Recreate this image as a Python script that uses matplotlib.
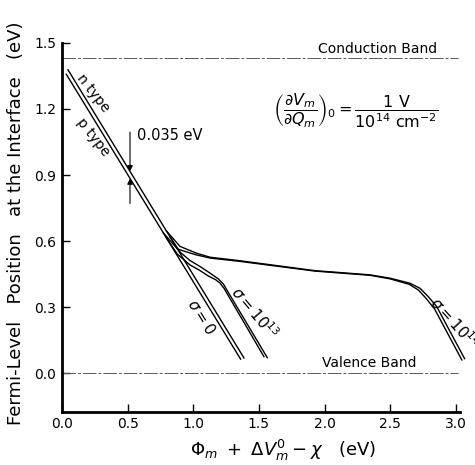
import matplotlib
matplotlib.use("Agg")
import matplotlib.pyplot as plt

# ---------------------------
# Data
# ---------------------------
# sigma = 0 : straight lines for n type (upper) and p type (lower)
x_n0 = [0.043, 1.389]
y_n0 = [1.380, 0.067]
x_p0 = [0.030, 1.363]
y_p0 = [1.360, 0.062]

# sigma = 1e13
x_n13 = [0.82, 0.90, 0.975, 1.051, 1.127, 1.19, 1.229, 1.259, 1.567]
y_n13 = [0.622, 0.55, 0.512, 0.485, 0.455, 0.429, 0.406, 0.375, 0.068]
x_p13 = [0.79, 0.88, 0.975, 1.05, 1.114, 1.17, 1.203, 1.234, 1.541]
y_p13 = [0.619, 0.54, 0.492, 0.467, 0.442, 0.425, 0.41, 0.386, 0.073]

# sigma = 1e14
x_n14 = [0.79, 0.899, 1.026, 1.127, 1.356, 1.927, 2.346, 2.498, 2.65, 2.727, 2.79, 2.854, 3.069]
y_n14 = [0.65, 0.576, 0.545, 0.527, 0.511, 0.466, 0.447, 0.432, 0.409, 0.386, 0.348, 0.303, 0.064]
x_p14 = [0.768, 0.88, 1.02, 1.13, 1.356, 1.927, 2.346, 2.498, 2.645, 2.715, 2.775, 2.838, 3.048]
y_p14 = [0.640, 0.564, 0.538, 0.523, 0.508, 0.464, 0.445, 0.429, 0.404, 0.378, 0.339, 0.292, 0.058]

conduction_band = 1.43
valence_band = 0.0

x_ticks = [0.0, 0.5, 1.0, 1.5, 2.0, 2.5, 3.0]
y_ticks = [0.0, 0.3, 0.6, 0.9, 1.2, 1.5]

# 0.035 eV marker
marker_x = 0.518
marker_top, marker_n = 1.095, 0.917
marker_bot, marker_p = 0.771, 0.884

# ---------------------------
# Plot
# ---------------------------
fig = plt.figure(figsize=(4.75, 4.65), dpi=100)
ax = fig.add_axes([0.1305, 0.1146, 0.8375, 0.7934])

lw = 1.0
for xs, ys in [(x_n0, y_n0), (x_p0, y_p0), (x_n13, y_n13), (x_p13, y_p13),
               (x_n14, y_n14), (x_p14, y_p14)]:
    ax.plot(xs, ys, color="black", lw=lw, clip_on=False, solid_capstyle="butt")

# band edges
for yb in [conduction_band, valence_band]:
    ax.plot([0.0, 3.02], [yb, yb], color="0.35", lw=0.7, dashes=(14, 2, 3, 2))

ax.text(2.40, conduction_band + 0.012, "Conduction Band", ha="center", va="bottom", fontsize=10)
ax.text(2.34, valence_band + 0.015, "Valence Band", ha="center", va="bottom", fontsize=10)

# curve labels
ax.text(0.236, 1.271, "n type", rotation=-52, ha="center", va="center", fontsize=10)
ax.text(0.236, 1.071, "p type", rotation=-52, ha="center", va="center", fontsize=10)
ax.text(1.064, 0.257, r"$\sigma = 0$", rotation=-58, ha="center", va="center", fontsize=11)
ax.text(1.465, 0.274, r"$\sigma = 10^{13}$", rotation=-50, ha="center", va="center", fontsize=11)
ax.text(2.985, 0.23, r"$\sigma = 10^{14}$", rotation=-48, ha="center", va="center", fontsize=11,
        clip_on=False)

# 0.035 eV marker
ax.annotate("", xy=(marker_x, marker_n), xytext=(marker_x, marker_top),
            arrowprops=dict(arrowstyle="-|>", color="black", lw=0.8, mutation_scale=8,
                            shrinkA=0, shrinkB=0))
ax.annotate("", xy=(marker_x, marker_p), xytext=(marker_x, marker_bot),
            arrowprops=dict(arrowstyle="-|>", color="black", lw=0.8, mutation_scale=8,
                            shrinkA=0, shrinkB=0))
ax.text(0.57, 1.08, "0.035 eV", ha="left", va="center", fontsize=10.5)

# formula
ax.text(2.24, 1.19,
        r"$\left(\dfrac{\partial V_m}{\partial Q_m}\right)_0 = \dfrac{1\ \mathrm{V}}{10^{14}\ \mathrm{cm}^{-2}}$",
        ha="center", va="center", fontsize=11.5)

# axes styling
ax.set_xlim(0, 3.03)
ax.set_ylim(-0.174, 1.5)
ax.set_xticks(x_ticks)
ax.set_xticklabels([f"{v:.1f}" for v in x_ticks])
ax.set_yticks(y_ticks)
ax.set_yticklabels([f"{v:.1f}" for v in y_ticks])
ax.tick_params(direction="in", length=6, width=1, labelsize=10, pad=4)
ax.spines["top"].set_visible(False)
ax.spines["right"].set_visible(False)
ax.spines["left"].set_linewidth(2)
ax.spines["bottom"].set_linewidth(2)

ax.set_xlabel(r"$\Phi_m\ +\ \Delta V_m^0 - \chi$   (eV)", fontsize=13)
ax.xaxis.set_label_coords(0.555, -0.072)
ax.set_ylabel("Fermi-Level   Position   at the Interface   (eV)", fontsize=13)
ax.yaxis.set_label_coords(-0.093, 0.51)

plt.savefig("out.png", dpi=100)
plt.close()
